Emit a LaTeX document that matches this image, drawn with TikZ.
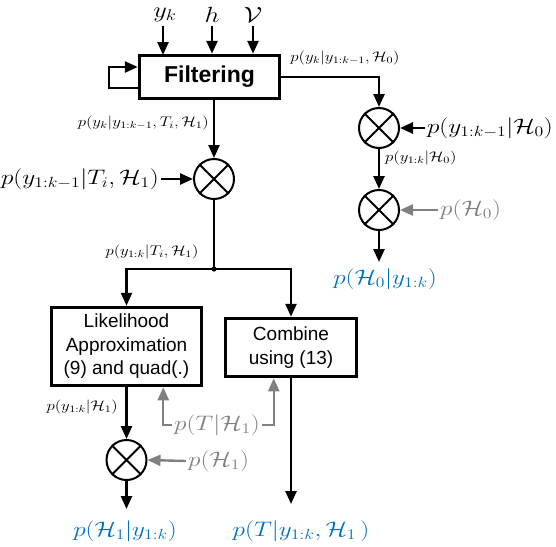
\RequirePackage{fix-cm}
\documentclass[tikz,border=0pt]{standalone}
\usepackage{fontspec}
\usepackage{graphicx}
\setsansfont{Liberation Sans}
\usetikzlibrary{arrows.meta,calc}
\definecolor{oblue}{RGB}{0,112,192}
\definecolor{lgray}{RGB}{128,128,128}
\newcommand{\wmath}[1]{\scalebox{1.2}[1]{$#1$}}
\begin{document}
\begin{tikzpicture}[x=1pt,y=-1pt,
  >={Triangle[length=13pt,width=11pt]},
  line/.style={line width=2.5pt},
  grayline/.style={line width=2.4pt, draw=lgray},
  box/.style={draw, line width=3.5pt, font=\sffamily\fontsize{19}{23.5}\selectfont, align=center, inner sep=0pt},
  mult/.style={circle, draw, line width=2pt, minimum size=40pt, inner sep=0pt},
  sl/.style={font=\fontsize{14}{16}\selectfont, inner sep=1pt},
  bl/.style={font=\fontsize{21}{24}\selectfont, inner sep=2pt},
  tl/.style={font=\fontsize{22}{24}\selectfont, inner sep=0pt}]
\useasboundingbox (0,0) rectangle (556,546);

% Filtering block and its inputs
\node[box, font=\sffamily\bfseries\fontsize{23}{26}\selectfont, minimum width=140pt, minimum height=43pt] (filt) at (209.5,77) {Filtering};
\node[tl] (yk) at (165,15) {\wmath{y_k}};
\node[tl] (hh) at (212,15) {\wmath{h}};
\node[tl] (vv) at (253,15) {\wmath{\mathcal{V}}};
\draw[line,->] (163,26) -- (163,55);
\draw[line,->] (hh.south |- 0,26) -- (hh.south |- filt.north);
\draw[line,->] (vv.south |- 0,26) -- (vv.south |- filt.north);
\draw[line,->] ($(filt.west)+(0,11)$) -| ($(filt.west)+(-29,0)$) |- ($(filt.west)+(0,-10)$);

% multipliers
\node[mult] (m1) at (379,128) {};
\node[mult] (m2) at (379,210) {};
\node[mult] (m0) at (214,179) {};
\node[mult] (m3) at (126.5,460) {};
\foreach \m in {m0,m1,m2,m3}{
  \draw[line width=2pt] (\m.north west) -- (\m.south east);
  \draw[line width=2pt] (\m.north east) -- (\m.south west);
}

% H0 branch
\draw[line,->] (filt.east) -| (m1.north);
\node[sl] (l1) at (345,58) {\wmath{p(y_k|y_{1:k-1},\mathcal{H}_0)}};
\node[bl, anchor=east] (in1) at (555,128) {\wmath{p(y_{1:k-1}|\mathcal{H}_0)}};
\draw[line,->] (in1.west) -- (m1.east);
\draw[line,->] (m1.south) -- (m2.north);
\node[sl, anchor=west] (l2) at (384,158) {\wmath{p(y_{1:k}|\mathcal{H}_0)}};
\node[bl, anchor=west, text=lgray] (ph0) at (438,210) {\wmath{p(\mathcal{H}_0)}};
\draw[grayline,->] (ph0.west) -- (m2.east);
\node[bl, text=oblue] (o0) at (385,279) {\wmath{p(\mathcal{H}_0|y_{1:k})}};
\draw[line,->] (m2.south) -- (m2.south |- 0,262);

% H1 branch
\draw[line,->] (m0 |- filt.south) -- (m0.north);
\node[sl, anchor=east] (l3) at (210,123) {\wmath{p(y_k|y_{1:k-1},T_i,\mathcal{H}_1)}};
\node[bl, anchor=east] (in0) at (161,179) {\wmath{p(y_{1:k-1}|T_i,\mathcal{H}_1)}};
\draw[line,->] (in0.east) -- (m0.west);
\coordinate (sp) at (214,269);
\draw[line] (m0.south) -- (sp);
\fill (sp) circle (2.6pt);
\node[sl] (l4) at (152,252) {\wmath{p(y_{1:k}|T_i,\mathcal{H}_1)}};

\node[box, minimum width=150pt, minimum height=78pt] (lik) at (126.5,346.5) {Likelihood\\Approximation\\(9) and quad(.)};
\node[box, minimum width=131pt, minimum height=58pt] (comb) at (291,347.5) {Combine\\using (13)};
\draw[line,->] (sp) -| (lik.north);
\draw[line,->] (sp) -| (comb.north);

\draw[line,->] (lik.south) -- (m3.north);
\node[sl, anchor=east] (l5) at (119,407) {\wmath{p(y_{1:k}|\mathcal{H}_1)}};
\node[bl, anchor=west, text=lgray] (ph1) at (186,461) {\wmath{p(\mathcal{H}_1)}};
\draw[grayline,->] (ph1.west) -- (m3.east);
\node[bl, text=oblue] (o1) at (125,531) {\wmath{p(\mathcal{H}_1|y_{1:k})}};
\draw[line,->] (m3.south) -- (m3.south |- 0,509);

\node[bl, text=oblue] (o2) at (301,531) {\wmath{p(T|y_{1:k},\mathcal{H}_1\,)}};
\draw[line,->] (comb.south) -- (comb.south |- 0,504);

\node[bl, text=lgray] (pt) at (217,425) {\wmath{p(T|\mathcal{H}_1)}};
\draw[grayline,->] (pt.west) -| ($(lik.south east)+(-40,0)$);
\draw[grayline,->] (pt.east) -| ($(comb.south west)+(50,0)$);
\end{tikzpicture}
\end{document}
